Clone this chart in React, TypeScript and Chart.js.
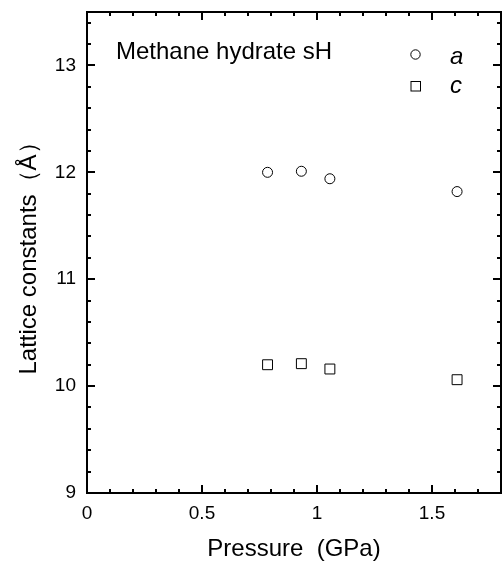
import React, { useEffect, useRef } from "react";
import { Chart, registerables } from "chart.js";

Chart.register(...registerables);

// ---- data ----
const seriesNames = ["a", "c"];
const pressureA = [0.785, 0.932, 1.056, 1.609];
const latticeA = [12.0, 12.01, 11.94, 11.82];
const pressureC = [0.785, 0.932, 1.056, 1.609];
const latticeC = [10.2, 10.21, 10.16, 10.06];
const xTickValues = [0, 0.5, 1, 1.5];
const yTickValues = [9, 10, 11, 12, 13];
const xRange = [0, 1.8];
const yRange = [9, 13.5];
const xMinorStep = 0.1;
const yMinorStep = 0.2;
const annotationText = "Methane hydrate sH";
const xTitle = "Pressure  (GPa)";
const yTitle = "Lattice constants（Å）";

const FONT = "'Liberation Sans', Arial, Helvetica, sans-serif";

const framePlugin = {
  id: "frameTicks",
  afterDraw(chart: any) {
    const ctx = chart.ctx as CanvasRenderingContext2D;
    const { left, right, top, bottom } = chart.chartArea;
    const xs = chart.scales.x;
    const ys = chart.scales.y;
    ctx.save();
    ctx.strokeStyle = "#000";
    ctx.lineCap = "butt";
    // frame
    ctx.lineWidth = 2;
    ctx.strokeRect(left, top, right - left, bottom - top);

    const isMajor = (v: number, majors: number[]) =>
      majors.some((m) => Math.abs(m - v) < 1e-6);

    // x ticks (bottom + top), inward
    const nx = Math.floor((xRange[1] - xRange[0]) / xMinorStep + 1e-6);
    for (let i = 0; i <= nx; i++) {
      const v = xRange[0] + i * xMinorStep;
      if (v > xRange[1] + 1e-9) break;
      const px = Math.round(xs.getPixelForValue(v));
      const major = isMajor(v, xTickValues);
      const len = major ? 8 : 4;
      ctx.lineWidth = 2;
      ctx.beginPath();
      ctx.moveTo(px, bottom);
      ctx.lineTo(px, bottom - len);
      ctx.moveTo(px, top);
      ctx.lineTo(px, top + len);
      ctx.stroke();
    }
    // y ticks (left + right), inward
    const ny = Math.floor((yRange[1] - yRange[0]) / yMinorStep + 1e-6);
    for (let i = 0; i <= ny; i++) {
      const v = yRange[0] + i * yMinorStep;
      if (v > yRange[1] + 1e-9) break;
      const py = Math.round(ys.getPixelForValue(v));
      const major = isMajor(v, yTickValues);
      const len = major ? 8 : 4;
      ctx.lineWidth = 2;
      ctx.beginPath();
      ctx.moveTo(left, py);
      ctx.lineTo(left + len, py);
      ctx.moveTo(right, py);
      ctx.lineTo(right - len, py);
      ctx.stroke();
    }

    // annotation
    ctx.fillStyle = "#000";
    ctx.textAlign = "left";
    ctx.textBaseline = "alphabetic";
    ctx.font = `24px ${FONT}`;
    ctx.fillText(annotationText, 116, 59);

    // legend
    ctx.lineWidth = 1;
    ctx.strokeStyle = "#000";
    ctx.beginPath();
    ctx.arc(415.5, 54.5, 4.7, 0, Math.PI * 2);
    ctx.stroke();
    ctx.strokeRect(411, 81.5, 9.5, 9.5);
    ctx.font = `italic 24px ${FONT}`;
    ctx.fillText(seriesNames[0], 450, 64);
    ctx.fillText(seriesNames[1], 450, 93);
    ctx.restore();
  },
};

export default function App() {
  const ref = useRef<HTMLCanvasElement | null>(null);

  useEffect(() => {
    document.body.style.margin = "0";
    const canvas = ref.current;
    if (!canvas) return;
    const chart = new Chart(canvas, {
      type: "scatter",
      data: {
        datasets: [
          {
            label: seriesNames[0],
            data: pressureA.map((x, i) => ({ x, y: latticeA[i] })),
            pointStyle: "circle",
            pointRadius: 5,
            pointBorderWidth: 1,
            borderColor: "#000",
            pointBorderColor: "#000",
            backgroundColor: "rgba(0,0,0,0)",
            pointBackgroundColor: "rgba(0,0,0,0)",
            showLine: false,
          },
          {
            label: seriesNames[1],
            data: pressureC.map((x, i) => ({ x, y: latticeC[i] })),
            pointStyle: "rect",
            pointRadius: 7,
            pointBorderWidth: 1,
            borderColor: "#000",
            pointBorderColor: "#000",
            backgroundColor: "rgba(0,0,0,0)",
            pointBackgroundColor: "rgba(0,0,0,0)",
            showLine: false,
          },
        ],
      },
      options: {
        responsive: false,
        animation: false,
        devicePixelRatio: 1,
        layout: { autoPadding: false, padding: { left: 0, top: 12, right: 3, bottom: 0 } },
        plugins: {
          legend: { display: false },
          tooltip: { enabled: false },
        },
        scales: {
          x: {
            type: "linear",
            min: xRange[0],
            max: xRange[1],
            grid: { display: false, drawTicks: false },
            border: { display: false },
            afterBuildTicks: (scale: any) => {
              scale.ticks = xTickValues.map((value) => ({ value }));
            },
            afterFit: (scale: any) => {
              scale.height = 72;
              scale.paddingLeft = 0;
              scale.paddingRight = 0;
              scale.paddingTop = 0;
              scale.paddingBottom = 0;
            },
            ticks: {
              padding: 9,
              color: "#000",
              font: { family: FONT, size: 19 },
              callback: (v: any) => String(v),
              maxRotation: 0,
            },
            title: {
              display: true,
              text: xTitle,
              color: "#000",
              font: { family: FONT, size: 24 },
              padding: { top: 0, bottom: 1 },
            },
          },
          y: {
            type: "linear",
            min: yRange[0],
            max: yRange[1],
            grid: { display: false, drawTicks: false },
            border: { display: false },
            afterBuildTicks: (scale: any) => {
              scale.ticks = yTickValues.map((value) => ({ value }));
            },
            afterFit: (scale: any) => {
              scale.width = 87;
              scale.paddingLeft = 0;
              scale.paddingRight = 0;
              scale.paddingTop = 0;
              scale.paddingBottom = 0;
            },
            ticks: {
              padding: 11,
              color: "#000",
              font: { family: FONT, size: 19 },
              callback: (v: any) => String(v),
            },
            title: {
              display: true,
              text: yTitle,
              color: "#000",
              font: { family: FONT, size: 24 },
              padding: { top: 15, bottom: 0 },
            },
          },
        },
      },
      plugins: [framePlugin],
    } as any);
    return () => chart.destroy();
  }, []);

  return (
    <div style={{ position: "absolute", left: 0, top: 0, width: 504, height: 565 }}>
      <canvas ref={ref} width={504} height={565} style={{ width: 504, height: 565 }} />
    </div>
  );
}
